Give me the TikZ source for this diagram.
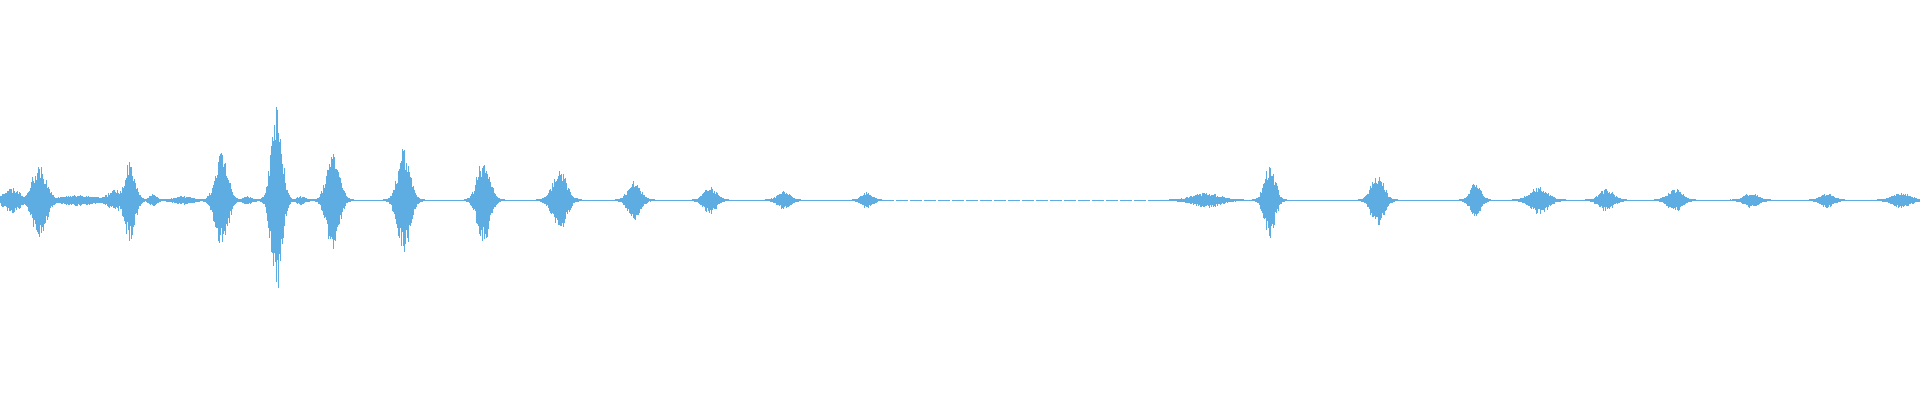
\documentclass[tikz,border=0pt]{standalone}
\definecolor{wave}{RGB}{93,173,226}
\tikzset{wavebar/.style={draw=wave,line width=0.45pt}}
\begin{document}
\begin{tikzpicture}[x=0.6122pt,y=0.6122pt]
\useasboundingbox (0,0) rectangle (1568,326.6);
\pgfmathsetseed{7}
\clip (0,0) rectangle (1568,326.6);
% baseline
\draw[wavebar] (0,163) -- (720,163);
\draw[wavebar,dash pattern=on 6pt off 1pt] (720,163) -- (950,163);
\draw[wavebar] (950,163) -- (1568,163);
% bursts: centre/amplitude/spread
\foreach \C/\A/\W in {10/10/9,32/30/8,65/4/20,95/8/10,106/33/6,125/5/4,150/3/10,
  181/40/7,202/3/5,226/80/6,246/3/5,272/40/7,330/44/7,395/36/7,457/25/8,518/16/7,
  580/11/7,640/7/7,708/6/6,985/6/15,1037/30/6,1125/22/7,1205/14/6,1257/11/10,
  1312/9/8,1368/9/8,1430/6/8,1492/6/7,1553/6/10}{
  \pgfmathsetmacro\lo{\C-2.5*\W}
  \pgfmathsetmacro\nx{\lo+0.7}
  \pgfmathsetmacro\hi{\C+2.5*\W}
  \foreach \x [evaluate=\x as \up using {\A*exp(-((\x-\C)/\W)^2)*(0.55+0.45*rnd)+0.6},
               evaluate=\x as \dn using {\A*exp(-((\x-\C)/\W)^2)*(0.55+0.45*rnd)+0.6}]
    in {\lo,\nx,...,\hi}
    \draw[wavebar] (\x,163+\up) -- (\x,163-\dn);
}
\end{tikzpicture}
\end{document}
